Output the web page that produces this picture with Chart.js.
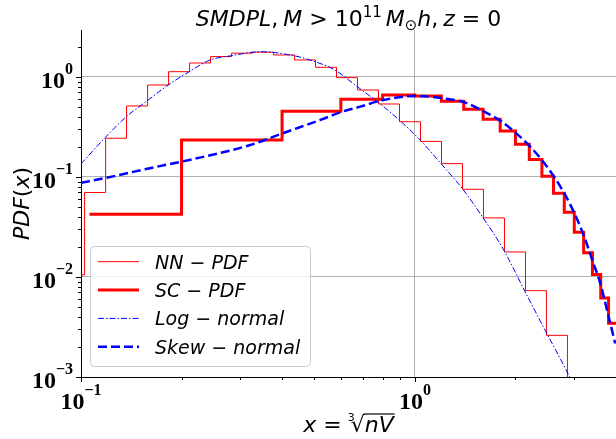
<!DOCTYPE html>
<html>
<head>
<meta charset="utf-8">
<script src="https://cdn.jsdelivr.net/npm/chart.js@4.4.0/dist/chart.umd.min.js"></script>
<style>
  html, body { margin: 0; padding: 0; background: #fff; }
  canvas { display: block; }
</style>
</head>
<body>
<canvas id="pdfChart" width="616" height="439"></canvas>
<script>
// --- DATA ---
// NN-PDF: thin red histogram, bins even in log(x); last bin is empty
const nnEdges = [0.0887, 0.1025, 0.1185, 0.1369, 0.1583, 0.1829, 0.2114, 0.2443, 0.2824,
                 0.3264, 0.3772, 0.4359, 0.5038, 0.5823, 0.6730, 0.7778, 0.8990, 1.039,
                 1.201, 1.388, 1.604, 1.854, 2.143, 2.476, 2.862, 3.308];
const nnValues = [0.0105, 0.070, 0.244, 0.513, 0.832, 1.13, 1.38, 1.60, 1.73, 1.77, 1.66,
                  1.48, 1.25, 0.985, 0.741, 0.537, 0.357, 0.227, 0.136, 0.0753, 0.0390,
                  0.0178, 0.0073, 0.00261, 0];

// SC-PDF: thick red histogram, bins of 0.2 in x
const scEdges = [0.106, 0.2, 0.4, 0.6, 0.8, 1.0, 1.2, 1.4, 1.6, 1.8, 2.0, 2.2, 2.4, 2.6,
                 2.8, 3.0, 3.2, 3.4, 3.6, 3.8, 4.0];
const scValues = [0.0424, 0.234, 0.455, 0.598, 0.66, 0.645, 0.572, 0.475, 0.377, 0.288,
                  0.212, 0.150, 0.102, 0.0687, 0.0443, 0.028, 0.0175, 0.0106, 0.00617, 0.00344];

// Log-normal fit (blue dash-dot)
const logNormX = [0.1, 0.1183, 0.1367, 0.158, 0.1825, 0.211, 0.2438, 0.2818, 0.344, 0.435,
                  0.503, 0.577, 0.672, 0.776, 0.897, 1.037, 1.199, 1.383, 1.594, 1.838,
                  2.125, 2.455, 2.838, 3.126];
const logNormY = [0.135, 0.249, 0.401, 0.58, 0.832, 1.13, 1.48, 1.63, 1.79, 1.63,
                  1.42, 1.17, 0.80, 0.558, 0.372, 0.234, 0.135, 0.0774, 0.0398, 0.019,
                  0.0074, 0.00292, 0.00117, 0.0006];

// Skew-normal fit (blue dashed)
const skewX = [0.1, 0.1183, 0.158, 0.211, 0.3212, 0.406, 0.5206, 0.6057, 0.686, 0.804,
               1.002, 1.215, 1.415, 1.612, 1.80, 2.011, 2.214, 2.422, 2.613, 2.818,
               3.019, 3.213, 3.395, 3.587, 3.791, 3.979];
const skewY = [0.0877, 0.0977, 0.121, 0.148, 0.209, 0.277, 0.372, 0.45, 0.505, 0.589,
               0.646, 0.612, 0.554, 0.45, 0.366, 0.273, 0.201, 0.142, 0.10, 0.0661,
               0.0417, 0.0253, 0.0148, 0.0087, 0.00417, 0.00216];

// Axis ticks
const xMajorTicks = [0.1, 1];
const xMinorTicks = [0.2, 0.3, 0.4, 0.5, 0.6, 0.7, 0.8, 0.9, 2, 3];
const yMajorTicks = [0.001, 0.01, 0.1, 1];
const yMinorTicks = [0.002, 0.003, 0.004, 0.005, 0.006, 0.007, 0.008, 0.009,
                     0.02, 0.03, 0.04, 0.05, 0.06, 0.07, 0.08, 0.09,
                     0.2, 0.3, 0.4, 0.5, 0.6, 0.7, 0.8, 0.9, 2];

const legendLabels = [['NN', 'PDF'], ['SC', 'PDF'], ['Log', 'normal'], ['Skew', 'normal']];

// --- helpers ---
// histogram edges + values -> stepped points (empty bins sit far below the axis)
function histPoints(edges, values) {
    const pts = values.map((v, i) => ({ x: edges[i], y: v > 0 ? v : 1e-9 }));
    pts.push({ x: edges[values.length], y: values[values.length - 1] > 0 ? values[values.length - 1] : 1e-9 });
    return pts;
}
const curvePoints = (xs, ys) => xs.map((x, i) => ({ x: x, y: ys[i] }));

const SANS = '"DejaVu Sans"';
const SERIF = '"Liberation Serif"';

// draw a row of text pieces in different fonts
function drawRuns(ctx, runs, x, y, align) {
    let total = 0;
    runs.forEach(r => {
        ctx.font = r.font;
        r.w = ctx.measureText(r.text).width + (r.gap || 0);
        total += r.w;
    });
    let cx = align === 'center' ? x - total / 2 : (align === 'right' ? x - total : x);
    runs.forEach(r => {
        ctx.font = r.font;
        r.x0 = cx;
        ctx.fillText(r.text, cx, y + (r.dy || 0));
        cx += r.w;
    });
    return runs;
}

function powerRuns(v) {
    const e = Math.round(Math.log10(v));
    return [
        { text: '10', font: 'bold 24px ' + SERIF },
        { text: e < 0 ? '\u2212' + (-e) : String(e), font: 'bold 16px ' + SERIF, dy: -14 }
    ];
}

const styles = [
    { color: '#ff0000', width: 1, dash: [] },
    { color: '#ff0000', width: 3, dash: [] },
    { color: '#0000ff', width: 1, dash: [6, 2, 1.5, 2] },
    { color: '#0000ff', width: 2.5, dash: [9, 4] }
];

// --- ticks, labels, titles and legend drawn on top of the chart ---
const decorPlugin = {
    id: 'decor',
    afterDraw(chart) {
        const ctx = chart.ctx;
        const area = chart.chartArea;
        const xs = chart.scales.x, ys = chart.scales.y;
        ctx.save();
        ctx.fillStyle = '#000';
        ctx.strokeStyle = '#000';
        ctx.textBaseline = 'alphabetic';
        ctx.textAlign = 'left';

        // tick marks (outward)
        ctx.lineWidth = 1;
        const tick = (x1, y1, x2, y2) => { ctx.beginPath(); ctx.moveTo(x1, y1); ctx.lineTo(x2, y2); ctx.stroke(); };
        xMajorTicks.forEach(v => { const p = Math.round(xs.getPixelForValue(v)) + 0.5; tick(p, area.bottom, p, area.bottom + 5); });
        xMinorTicks.forEach(v => { const p = Math.round(xs.getPixelForValue(v)) + 0.5; tick(p, area.bottom, p, area.bottom + 3); });
        yMajorTicks.forEach(v => { const p = Math.round(ys.getPixelForValue(v)) + 0.5; tick(area.left - 5, p, area.left, p); });
        yMinorTicks.forEach(v => { const p = Math.round(ys.getPixelForValue(v)) + 0.5; tick(area.left - 3, p, area.left, p); });

        // tick labels
        yMajorTicks.forEach(v => drawRuns(ctx, powerRuns(v), area.left - 8, ys.getPixelForValue(v) + 11, 'right'));
        xMajorTicks.forEach(v => drawRuns(ctx, powerRuns(v), xs.getPixelForValue(v), area.bottom + 32, 'center'));

        // title
        const T = 22, it = 'italic ' + T + 'px ' + SANS, up = T + 'px ' + SANS, sm = '15px ' + SANS;
        drawRuns(ctx, [
            { text: 'SMDPL', font: it }, { text: ',', font: up, gap: 5 },
            { text: 'M', font: it }, { text: ' > ', font: up },
            { text: '10', font: up }, { text: '11', font: sm, dy: -9, gap: 4 },
            { text: 'M', font: it }, { text: '\u2299', font: sm, dy: 4 },
            { text: 'h', font: it }, { text: ',', font: up, gap: 5 },
            { text: 'z', font: it }, { text: ' = ', font: up }, { text: '0', font: up }
        ], (area.left + area.right) / 2, 26, 'center');

        // y axis title
        ctx.save();
        ctx.translate(29, (area.top + area.bottom) / 2);
        ctx.rotate(-Math.PI / 2);
        drawRuns(ctx, [
            { text: 'PDF', font: it }, { text: '(', font: up },
            { text: 'x', font: it }, { text: ')', font: up }
        ], 0, 0, 'center');
        ctx.restore();

        // x axis title: x = cube root of nV
        const base = 432;
        const r = drawRuns(ctx, [
            { text: 'x', font: it }, { text: ' = ', font: up, gap: 2 },
            { text: '\u221A', font: up }, { text: 'nV', font: it }
        ], (area.left + area.right) / 2, base, 'center');
        ctx.font = '11px ' + SANS;
        ctx.fillText('3', r[2].x0 - 3, base - 11);
        ctx.lineWidth = 1.2;
        ctx.beginPath();
        ctx.moveTo(r[2].x0 + r[2].w - 1, base - 18);
        ctx.lineTo(r[3].x0 + r[3].w + 1, base - 18);
        ctx.stroke();

        // legend
        const lx = 90.5, ly = 246.5, lw = 220, lh = 120;
        ctx.beginPath();
        ctx.roundRect(lx, ly, lw, lh, 4);
        ctx.fillStyle = 'rgba(255,255,255,0.8)';
        ctx.fill();
        ctx.strokeStyle = '#cccccc';
        ctx.lineWidth = 1;
        ctx.stroke();
        const L = 19, lit = 'italic ' + L + 'px ' + SANS, lup = L + 'px ' + SANS;
        legendLabels.forEach((lab, i) => {
            const cy = 261.7 + i * 28.35;
            const s = styles[i];
            ctx.strokeStyle = s.color;
            ctx.lineWidth = s.width;
            ctx.setLineDash(s.dash);
            ctx.beginPath();
            ctx.moveTo(98, cy);
            ctx.lineTo(139, cy);
            ctx.stroke();
            ctx.setLineDash([]);
            ctx.fillStyle = '#000';
            drawRuns(ctx, [
                { text: lab[0], font: lit }, { text: ' \u2212 ', font: lup }, { text: lab[1], font: lit }
            ], 155, cy + 7, 'left');
        });
        ctx.restore();
    }
};

// --- CHART ---
const ctx = document.getElementById('pdfChart').getContext('2d');
new Chart(ctx, {
    type: 'scatter',
    data: {
        datasets: [
            {
                label: 'NN-PDF', data: histPoints(nnEdges, nnValues), showLine: true, stepped: 'before',
                borderColor: styles[0].color, borderWidth: styles[0].width, order: 4
            },
            {
                label: 'SC-PDF', data: histPoints(scEdges, scValues), showLine: true, stepped: 'before',
                borderColor: styles[1].color, borderWidth: styles[1].width, order: 3
            },
            {
                label: 'Log-normal', data: curvePoints(logNormX, logNormY), showLine: true,
                cubicInterpolationMode: 'monotone', borderDash: styles[2].dash,
                borderColor: styles[2].color, borderWidth: styles[2].width, order: 2
            },
            {
                label: 'Skew-normal', data: curvePoints(skewX, skewY), showLine: true,
                cubicInterpolationMode: 'monotone', borderDash: styles[3].dash,
                borderColor: styles[3].color, borderWidth: styles[3].width, order: 1
            }
        ]
    },
    options: {
        responsive: false,
        animation: false,
        layout: { padding: { top: 30, right: 0, left: 0, bottom: 0 } },
        elements: { point: { radius: 0, hoverRadius: 0 } },
        plugins: { legend: { display: false }, tooltip: { enabled: false } },
        scales: {
            x: {
                type: 'logarithmic', min: 0.1, max: 4.0,
                afterBuildTicks: s => { s.ticks = xMajorTicks.map(v => ({ value: v })); },
                afterFit: s => { s.height = 62; },
                ticks: { display: false },
                grid: { color: '#b0b0b0', lineWidth: 1, drawTicks: false },
                border: { color: '#000', width: 1 }
            },
            y: {
                type: 'logarithmic', min: 0.001, max: 2.95,
                afterBuildTicks: s => { s.ticks = yMajorTicks.map(v => ({ value: v })); },
                afterFit: s => { s.width = 81; },
                ticks: { display: false },
                grid: { color: '#b0b0b0', lineWidth: 1, drawTicks: false },
                border: { color: '#000', width: 1 }
            }
        }
    },
    plugins: [decorPlugin]
});
</script>
</body>
</html>
